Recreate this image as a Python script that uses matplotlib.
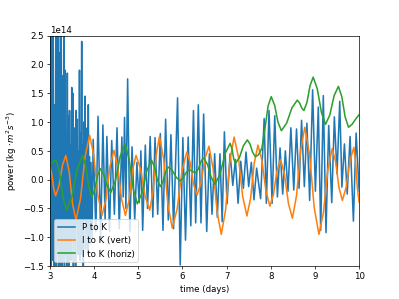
import numpy as np
from matplotlib import pyplot as plt

# values in units of 1e14 kg m^2 s^-3
p_to_k_t = [
    3.000, 3.015, 3.030, 3.045, 3.060, 3.075, 3.090, 3.105, 3.120, 3.135,
    3.150, 3.165, 3.180, 3.195, 3.210, 3.225, 3.240, 3.255, 3.270, 3.285,
    3.300, 3.315, 3.330,
    3.345, 3.357, 3.370, 3.382, 3.395, 3.407, 3.420, 3.432, 3.445, 3.457,
    3.470, 3.482, 3.495, 3.507, 3.520, 3.532, 3.545, 3.557, 3.570, 3.582,
    3.595, 3.607, 3.620, 3.632, 3.645, 3.657, 3.670, 3.682, 3.695, 3.707,
    3.720, 3.732, 3.745, 3.757, 3.770, 3.782, 3.795, 3.807, 3.820, 3.832,
    3.845, 3.857, 3.870, 3.882, 3.895, 3.907, 3.930, 3.955,
    3.98, 4.04, 4.09, 4.15, 4.20, 4.25, 4.29, 4.35, 4.40, 4.46,
    4.52, 4.57, 4.63, 4.66, 4.69, 4.72, 4.76, 4.81, 4.86, 4.92,
    4.97, 5.02, 5.06, 5.10, 5.16, 5.21, 5.27, 5.33, 5.38, 5.44,
    5.50, 5.56, 5.62, 5.68, 5.74, 5.80, 5.89, 5.95, 6.01, 6.07,
    6.13, 6.19, 6.25, 6.30, 6.36, 6.42, 6.48, 6.55, 6.61, 6.67,
    6.73, 6.79, 6.85, 6.90, 6.95, 7.01, 7.08, 7.14, 7.20, 7.26,
    7.32, 7.38, 7.44, 7.50, 7.56, 7.62, 7.68, 7.77, 7.85, 7.90,
    7.96, 8.03, 8.09, 8.15, 8.21, 8.27, 8.33, 8.39, 8.455, 8.52,
    8.583, 8.64, 8.697, 8.76, 8.818, 8.88, 8.947, 9.01, 9.076, 9.13,
    9.189, 9.25, 9.311, 9.38, 9.439, 9.50, 9.561, 9.61, 9.667, 9.73,
    9.795, 9.87, 9.932, 10.0,
]
p_to_k = [
    -1.2, 2.9, -1.6, 2.7, -1.4, 2.8, -1.6, 1.3, -1.5, 2.9,
    -1.6, 2.6, -1.2, 2.8, -1.6, 2.2, -1.5, 2.9, -1.6, 1.8,
    -1.4, 2.7, -1.6,
    1.9, -1.3, 0.8, -1.5, 1.85, -0.9, 1.1, -1.5, 1.2, -1.2,
    0.6, -1.4, 1.6, -1.0, 1.5, -1.5, 0.7, -1.1, 0.9, -1.5,
    1.2, -0.8, 1.05, -1.3, 0.5, -1.0, 1.9, -1.4, 0.8, -0.9,
    2.4, -1.3, 0.6, -1.5, 1.0, -0.7, 1.45, -1.2, 0.5, -0.9,
    0.9, -1.3, 1.3, -0.6, 0.4, -1.1, 0.3, -1.0,
    0.7, -0.9, 1.1, -1.0, 0.95, -0.7, 0.75, -0.9, 0.68, -0.6,
    0.9, -0.85, 0.74, -0.3, 1.08, -0.5, 1.75, -0.9, 0.57, -0.7,
    0.3, -0.4, 0.5, -0.88, 0.6, -0.5, 0.75, -0.65, 0.73, -0.6,
    0.8, -0.88, 1.05, -0.7, 0.78, -0.85, 1.42, -1.48, 0.73, -1.05,
    0.74, -0.8, 1.2, -0.75, 1.3, -0.75, 1.14, -0.9, 0.45, -0.6,
    0.45, -0.65, 0.45, -0.73, 0.83, -0.42, 0.45, -0.1, 0.35, -0.41,
    0.32, -0.15, 0.48, -0.12, 0.3, -0.35, 0.2, -0.33, 1.06, -0.41,
    1.2, -0.41, 1.11, -0.3, 0.55, -0.25, 0.5, -0.2, 0.9, -0.18,
    0.88, -0.15, 1.03, -0.12, 0.98, -0.36, 1.56, -0.2, 1.26, -0.88,
    1.46, -0.92, 0.94, -0.4, 1.09, 0.1, 1.36, -0.13, 0.62, -0.25,
    0.75, -0.72, 0.81, -0.2,
]

i_to_k_vert_t = [
    3.000, 3.043, 3.087, 3.130, 3.207, 3.283, 3.360, 3.437, 3.513, 3.590,
    3.693, 3.797, 3.900, 3.993, 4.087, 4.180, 4.270, 4.360, 4.450, 4.537,
    4.623, 4.710, 4.790, 4.870, 4.950, 5.053, 5.157, 5.260, 5.333, 5.407,
    5.480, 5.577, 5.673, 5.770, 5.880, 5.990, 6.100, 6.177, 6.253, 6.330,
    6.420, 6.510, 6.600, 6.693, 6.787, 6.880, 6.977, 7.073, 7.170, 7.267,
    7.363, 7.460, 7.543, 7.627, 7.710, 7.800, 7.890, 7.980, 8.060, 8.140,
    8.220, 8.310, 8.400, 8.490, 8.583, 8.677, 8.770, 8.877, 8.983, 9.090,
    9.190, 9.290, 9.390, 9.467, 9.543, 9.620, 9.707, 9.793, 9.880, 9.920,
    9.960, 10.000,
]
i_to_k_vert = [
    0.22, 0.095, -0.155, -0.28, -0.105, 0.245, 0.42, 0.14, -0.42, -0.70,
    -0.333, 0.403, 0.77, 0.423, -0.273, -0.62, -0.338, 0.228, 0.51, 0.228,
    -0.338, -0.62, -0.36, 0.16, 0.42, 0.183, -0.293, -0.53, -0.21, 0.43,
    0.75, 0.353, -0.443, -0.84, -0.51, 0.15, 0.48, 0.293, -0.083, -0.27,
    -0.058, 0.368, 0.58, 0.198, -0.568, -0.95, -0.528, 0.318, 0.74, 0.398,
    -0.288, -0.63, -0.323, 0.293, 0.60, 0.335, -0.195, -0.46, -0.258, 0.148,
    0.35, 0.095, -0.415, -0.67, -0.275, 0.515, 0.91, 0.445, -0.485, -0.95,
    -0.578, 0.168, 0.54, 0.315, -0.135, -0.36, -0.13, 0.33, 0.56, 0.323,
    -0.153, -0.39,
]

i_to_k_horiz_t = [
    3.000, 3.047, 3.093, 3.140, 3.220, 3.300, 3.380, 3.500, 3.620, 3.740,
    3.810, 3.880, 3.950, 4.013, 4.077, 4.140, 4.220, 4.300, 4.380, 4.487,
    4.593, 4.700, 4.793, 4.887, 4.980, 5.087, 5.193, 5.300, 5.367, 5.433,
    5.500, 5.560, 5.620, 5.680, 5.770, 5.860, 5.950, 6.017, 6.083, 6.150,
    6.200, 6.250, 6.300, 6.360, 6.420, 6.480, 6.567, 6.653, 6.740, 6.853,
    6.967, 7.080, 7.120, 7.160, 7.200, 7.290, 7.380, 7.470, 7.530, 7.590,
    7.650, 7.720, 7.800, 7.870, 7.940, 8.010, 8.087, 8.163, 8.240, 8.360,
    8.480, 8.600, 8.650, 8.700, 8.750, 8.820, 8.890, 8.960, 9.053, 9.147,
    9.240, 9.337, 9.433, 9.530, 9.607, 9.683, 9.760, 9.840, 9.920, 10.000,
]
i_to_k_horiz = [
    0.27, 0.30, 0.325, 0.33, 0.115, -0.315, -0.53, -0.293, 0.183, 0.42,
    0.24, -0.12, -0.30, -0.178, 0.068, 0.19, 0.088, -0.118, -0.22, -0.01,
    0.41, 0.62, 0.36, -0.16, -0.42, -0.23, 0.15, 0.34, 0.225, -0.005,
    -0.12, -0.035, 0.135, 0.22, 0.16, 0.04, -0.02, 0.028, 0.123, 0.17,
    0.158, 0.133, 0.12, 0.185, 0.315, 0.38, 0.265, 0.035, -0.08, 0.098,
    0.453, 0.63, 0.543, 0.368, 0.28, 0.383, 0.588, 0.69, 0.618, 0.473,
    0.40, 0.43, 0.55, 0.90, 1.28, 1.44, 1.293, 0.998, 0.85, 0.983,
    1.248, 1.38, 1.335, 1.245, 1.20, 1.345, 1.635, 1.78, 1.575, 1.165,
    0.96, 1.125, 1.455, 1.62, 1.443, 1.088, 0.91, 0.96, 1.05, 1.13,
]

scale = 1e14

# default 6.4x4.8 figure, saved small
fig, ax = plt.subplots(figsize=(6.4, 4.8), dpi=62.35)

ax.plot(p_to_k_t, np.array(p_to_k) * scale, lw=1.8, label="P to K")
ax.plot(i_to_k_vert_t, np.array(i_to_k_vert) * scale, lw=1.8, label="I to K (vert)")
ax.plot(i_to_k_horiz_t, np.array(i_to_k_horiz) * scale, lw=1.8, label="I to K (horiz)")

ax.set_xlim(3, 10)
ax.set_ylim(-1.5e14, 2.5e14)
ax.set_xlabel("time (days)")
ax.set_ylabel(r"power (kg $\cdot m^2 s^{-3}$)")
ax.legend(loc="lower left")

plt.savefig("out.png", dpi=62.35)
